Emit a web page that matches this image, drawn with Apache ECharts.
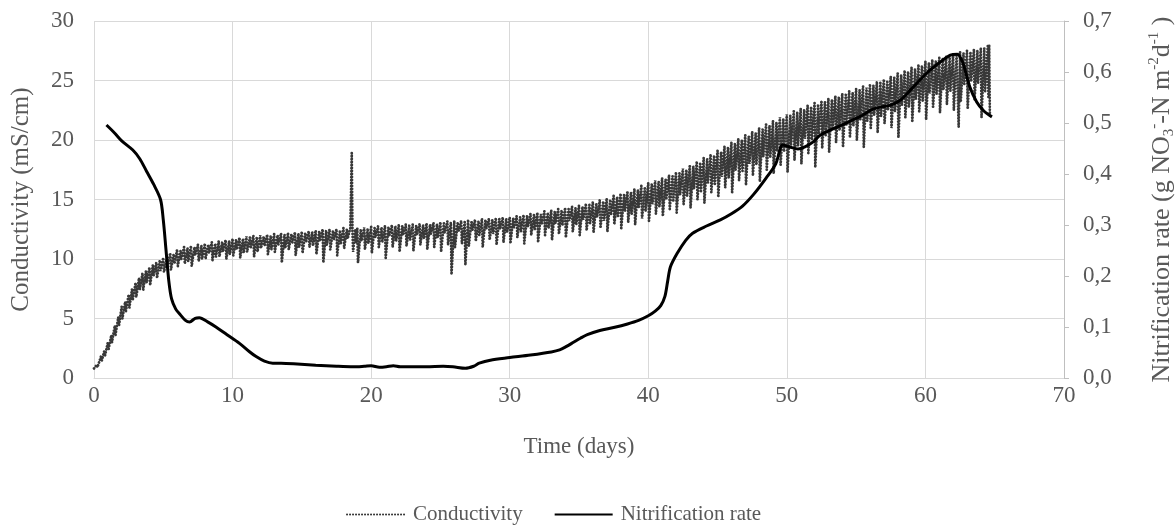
<!DOCTYPE html>
<html>
<head>
<meta charset="utf-8">
<script src="https://cdn.jsdelivr.net/npm/echarts@6/dist/echarts.min.js"></script>
<style>
  html, body { margin: 0; padding: 0; background: #fff; }
  #chart { width: 1176px; height: 526px; }
</style>
</head>
<body>
<div id="chart"></div>
<script>
// conductivity (mS/cm), [day, value]
var condEarly = [
  [0, 0.8], [0.2, 1.1], [0.25, 0.9], [0.5, 1.8], [0.55, 1.4], [0.75, 2.3], [0.8, 1.9],
  [1.0, 3.0], [1.05, 2.4], [1.25, 3.6], [1.3, 3.0], [1.5, 4.4], [1.55, 3.6], [1.75, 5.1], [1.8, 4.4],
  [2.0, 6.0], [2.05, 5.0], [2.25, 6.4], [2.3, 5.6], [2.5, 7.0], [2.55, 5.9], [2.75, 7.5], [2.8, 6.6],
  [3.0, 8.0], [3.05, 6.8], [3.25, 8.4], [3.3, 7.4], [3.5, 8.8], [3.55, 7.4], [3.75, 9.0], [3.8, 8.0],
  [4.0, 9.3], [4.05, 7.8], [4.25, 9.5], [4.3, 8.6], [4.5, 9.7], [4.55, 8.4], [4.75, 9.9], [4.8, 9.0],
  [5.0, 10.1], [5.05, 8.9], [5.25, 10.0], [5.3, 9.4],
  [5.5, 10.5], [5.55, 9.1], [5.75, 10.4], [5.8, 9.6],
  [6.0, 10.8], [6.05, 9.4], [6.25, 10.7], [6.3, 10.0],
  [6.5, 11.0], [6.55, 9.6], [6.75, 10.9], [6.8, 9.8],
  [7.0, 11.1], [7.05, 9.4], [7.25, 11.0], [7.3, 10.3],
  [7.5, 11.2], [7.55, 9.8], [7.75, 11.1], [7.8, 10.0],
  [8.0, 11.3], [8.05, 10.0], [8.25, 11.2], [8.3, 10.5],
  [8.5, 11.4], [8.55, 9.9], [8.75, 11.3], [8.8, 10.2],
  [9.0, 11.5], [9.05, 10.2], [9.25, 11.4], [9.3, 10.6],
  [9.5, 11.6], [9.55, 10.0], [9.75, 11.5], [9.8, 10.4]
];
var condMid = [
  [10.0, 11.7], [10.05, 10.3], [10.25, 11.6], [10.3, 10.8],
  [10.5, 11.8], [10.55, 10.1], [10.75, 11.7], [10.8, 10.5],
  [11.0, 11.9], [11.05, 10.6], [11.25, 11.8], [11.3, 10.9],
  [11.5, 11.95], [11.55, 10.2], [11.75, 11.85], [11.8, 10.6],
  [12.0, 12.0], [12.05, 10.9], [12.25, 11.9], [12.3, 11.1],
  [12.5, 12.05], [12.55, 10.4], [12.75, 11.95], [12.8, 10.8],
  [13.0, 12.1], [13.05, 10.6], [13.25, 12.0], [13.3, 11.2],
  [13.5, 12.15], [13.55, 9.7], [13.75, 12.05], [13.8, 10.9],
  [14.0, 12.2], [14.05, 10.8], [14.25, 12.1], [14.3, 11.3],
  [14.5, 12.25], [14.55, 10.3], [14.75, 12.15], [14.8, 11.0],
  [15.0, 12.3], [15.05, 10.5], [15.25, 12.2], [15.3, 11.4],
  [15.5, 12.35], [15.55, 11.0], [15.75, 12.25], [15.8, 11.1],
  [16.0, 12.4], [16.05, 10.4], [16.25, 12.3], [16.3, 11.5],
  [16.5, 12.5], [16.55, 9.7], [16.75, 12.4], [16.8, 11.2],
  [17.0, 12.5], [17.05, 10.8], [17.25, 12.4], [17.3, 11.6],
  [17.5, 12.5], [17.55, 10.3], [17.75, 12.4], [17.8, 11.3],
  [18.0, 12.6], [18.05, 10.9], [18.25, 12.5], [18.3, 11.7],
  [18.5, 12.6], [18.55, 12.5], [18.6, 18.9], [18.65, 12.4], [18.7, 10.6], [18.85, 12.5], [18.9, 11.4],
  [19.0, 12.6], [19.05, 9.7], [19.25, 12.5], [19.3, 11.5],
  [19.5, 12.65], [19.55, 10.8], [19.75, 12.55], [19.8, 11.3],
  [20.0, 12.7], [20.05, 10.5], [20.25, 12.6], [20.3, 11.8],
  [20.5, 12.75], [20.55, 11.0], [20.75, 12.65], [20.8, 11.4],
  [21.0, 12.8], [21.05, 10.1], [21.25, 12.7], [21.3, 11.9],
  [21.5, 12.85], [21.55, 11.0], [21.75, 12.75], [21.8, 11.5],
  [22.0, 12.9], [22.05, 10.6], [22.25, 12.8], [22.3, 12.0],
  [22.5, 12.9], [22.55, 11.1], [22.75, 12.8], [22.8, 11.6],
  [23.0, 12.9], [23.05, 10.7], [23.25, 12.8], [23.3, 12.0],
  [23.5, 12.95], [23.55, 11.2], [23.75, 12.85], [23.8, 11.7],
  [24.0, 13.0], [24.05, 10.8], [24.25, 12.9], [24.3, 12.1],
  [24.5, 13.05], [24.55, 11.0], [24.75, 12.95], [24.8, 11.8],
  [25.0, 13.1], [25.05, 10.6], [25.25, 13.0], [25.3, 12.2],
  [25.5, 13.15], [25.55, 11.2], [25.75, 13.05], [25.8, 8.7],
  [26.0, 13.2], [26.05, 11.0], [26.25, 13.1], [26.3, 12.3],
  [26.5, 13.2], [26.55, 11.3], [26.75, 13.1], [26.8, 9.5],
  [27.0, 13.3], [27.05, 11.1], [27.25, 13.2], [27.3, 12.4],
  [27.5, 13.3], [27.55, 11.5], [27.75, 13.2], [27.8, 12.0],
  [28.0, 13.4], [28.05, 11.0], [28.25, 13.3], [28.3, 12.5],
  [28.5, 13.4], [28.55, 11.6], [28.75, 13.3], [28.8, 12.1],
  [29.0, 13.45], [29.05, 11.2], [29.25, 13.35], [29.3, 12.5],
  [29.5, 13.5], [29.55, 11.4], [29.75, 13.4], [29.8, 12.2],
  [30.0, 13.5], [30.05, 11.3], [30.25, 13.4], [30.3, 12.6],
  [30.5, 13.6], [30.55, 11.8], [30.75, 13.5], [30.8, 12.3],
  [31.0, 13.7], [31.05, 11.3], [31.25, 13.6], [31.3, 12.7],
  [31.5, 13.8], [31.55, 12.0], [31.75, 13.7], [31.8, 12.5],
  [32.0, 13.9], [32.05, 11.4], [32.25, 13.8], [32.3, 12.9],
  [32.5, 14.0], [32.55, 12.0], [32.75, 13.9], [32.8, 12.6],
  [33.0, 14.1], [33.05, 11.6], [33.25, 14.0], [33.3, 13.0],
  [33.5, 14.2], [33.55, 12.1], [33.75, 14.1], [33.8, 12.8],
  [34.0, 14.3], [34.05, 11.8], [34.25, 14.2], [34.3, 13.2],
  [34.5, 14.4], [34.55, 12.3], [34.75, 14.3], [34.8, 12.9],
  [35.0, 14.5], [35.05, 12.0], [35.25, 14.4], [35.3, 13.3]
];
var condLate = [
  [35.5, 14.65], [35.55, 12.4], [35.75, 14.55], [35.8, 13.0],
  [36.0, 14.8], [36.05, 12.2], [36.25, 14.7], [36.3, 13.5],
  [36.5, 14.95], [36.55, 12.6], [36.75, 14.85], [36.8, 13.2],
  [37.0, 15.1], [37.05, 12.3], [37.25, 15.0], [37.3, 13.7],
  [37.5, 15.3], [37.55, 12.9], [37.75, 15.2], [37.8, 13.5],
  [38.0, 15.5], [38.05, 12.6], [38.25, 15.4], [38.3, 14.0],
  [38.5, 15.7], [38.55, 13.1], [38.75, 15.6], [38.8, 13.8],
  [39.0, 15.9], [39.05, 12.9], [39.25, 15.8], [39.3, 14.3],
  [39.5, 16.15], [39.55, 13.4], [39.75, 16.05], [39.8, 14.0],
  [40.0, 16.4], [40.05, 13.2], [40.25, 16.3], [40.3, 14.6],
  [40.5, 16.6], [40.55, 13.8], [40.75, 16.5], [40.8, 14.4],
  [41.0, 16.8], [41.05, 13.6], [41.25, 16.7], [41.3, 15.0],
  [41.5, 17.05], [41.55, 14.2], [41.75, 16.95], [41.8, 14.8],
  [42.0, 17.3], [42.05, 13.9], [42.25, 17.2], [42.3, 15.4],
  [42.5, 17.6], [42.55, 14.6], [42.75, 17.5], [42.8, 15.3],
  [43.0, 17.9], [43.05, 14.3], [43.25, 17.8], [43.3, 15.9],
  [43.5, 18.2], [43.55, 15.0], [43.75, 18.1], [43.8, 15.7],
  [44.0, 18.5], [44.05, 14.7], [44.25, 18.4], [44.3, 16.4],
  [44.5, 18.8], [44.55, 15.6], [44.75, 18.7], [44.8, 16.3],
  [45.0, 19.1], [45.05, 15.2], [45.25, 19.0], [45.3, 16.9],
  [45.5, 19.45], [45.55, 16.0], [45.75, 19.35], [45.8, 16.8],
  [46.0, 19.8], [46.05, 15.6], [46.25, 19.7], [46.3, 17.5],
  [46.5, 20.1], [46.55, 16.6], [46.75, 20.0], [46.8, 17.4],
  [47.0, 20.4], [47.05, 16.2], [47.25, 20.3], [47.3, 18.0],
  [47.5, 20.7], [47.55, 17.0], [47.75, 20.6], [47.8, 17.9],
  [48.0, 21.0], [48.05, 16.5], [48.25, 20.9], [48.3, 18.6],
  [48.5, 21.3], [48.55, 17.5], [48.75, 21.2], [48.8, 18.5],
  [49.0, 21.6], [49.05, 17.2], [49.25, 21.5], [49.3, 19.1],
  [49.5, 21.9], [49.55, 17.9], [49.75, 21.8], [49.8, 19.0],
  [50.0, 22.15], [50.05, 17.3], [50.25, 22.05], [50.3, 19.6],
  [50.5, 22.4], [50.55, 18.3], [50.75, 22.3], [50.8, 19.5],
  [51.0, 22.65], [51.05, 18.0], [51.25, 22.55], [51.3, 20.1],
  [51.5, 22.9], [51.55, 18.9], [51.75, 22.8], [51.8, 20.0],
  [52.0, 23.1], [52.05, 17.7], [52.25, 23.0], [52.3, 20.5],
  [52.5, 23.3], [52.55, 19.3], [52.75, 23.2], [52.8, 20.4],
  [53.0, 23.5], [53.05, 19.0], [53.25, 23.4], [53.3, 20.9],
  [53.5, 23.7], [53.55, 19.8], [53.75, 23.6], [53.8, 20.8],
  [54.0, 23.9], [54.05, 19.4], [54.25, 23.8], [54.3, 21.3],
  [54.5, 24.1], [54.55, 20.2], [54.75, 24.0], [54.8, 21.2],
  [55.0, 24.3], [55.05, 20.0], [55.25, 24.2], [55.3, 21.7],
  [55.5, 24.5], [55.55, 19.4], [55.75, 24.4], [55.8, 21.6],
  [56.0, 24.7], [56.05, 20.9], [56.25, 24.6], [56.3, 22.1],
  [56.5, 24.9], [56.55, 20.6], [56.75, 24.8], [56.8, 22.0],
  [57.0, 25.1], [57.05, 21.4], [57.25, 25.0], [57.3, 22.5],
  [57.5, 25.35], [57.55, 21.0], [57.75, 25.25], [57.8, 22.4],
  [58.0, 25.6], [58.05, 20.2], [58.25, 25.5], [58.3, 22.9],
  [58.5, 25.85], [58.55, 21.9], [58.75, 25.75], [58.8, 22.8],
  [59.0, 26.1], [59.05, 21.5], [59.25, 26.0], [59.3, 23.4],
  [59.5, 26.35], [59.55, 22.4], [59.75, 26.25], [59.8, 23.3],
  [60.0, 26.6], [60.05, 21.7], [60.25, 26.5], [60.3, 23.9],
  [60.5, 26.75], [60.55, 22.8], [60.75, 26.65], [60.8, 23.8],
  [61.0, 26.9], [61.05, 22.3], [61.25, 26.8], [61.3, 24.2],
  [61.5, 27.05], [61.55, 23.0], [61.75, 26.95], [61.8, 24.1],
  [62.0, 27.2], [62.05, 22.5], [62.25, 27.1], [62.4, 21.1],
  [62.5, 27.4], [62.55, 23.2], [62.75, 27.3], [62.8, 24.6],
  [63.0, 27.5], [63.05, 22.6], [63.25, 27.4], [63.3, 24.9],
  [63.5, 27.6], [63.55, 23.4], [63.75, 27.5], [63.8, 24.8],
  [64.0, 27.75], [64.05, 21.9], [64.25, 27.7], [64.3, 24.0],
  [64.5, 27.9], [64.55, 23.5], [64.6, 28.0], [64.65, 22.1]
];

// nitrification rate (g NO3-N m-2 d-1), [day, value]
var nitrRate = [
  [0.9, 0.496], [1.5, 0.48], [2.0, 0.465], [2.8, 0.447], [3.3, 0.43], [3.8, 0.405], [4.3, 0.38], [4.8, 0.35],
  [5.0, 0.31], [5.2, 0.25], [5.4, 0.19], [5.6, 0.155], [5.9, 0.135], [6.2, 0.125], [6.6, 0.113], [6.9, 0.110],
  [7.3, 0.117], [7.6, 0.118], [8.2, 0.11], [8.8, 0.10], [9.6, 0.085], [10.5, 0.068], [11.2, 0.052], [11.7, 0.042],
  [12.3, 0.033], [12.9, 0.029], [13.5, 0.029], [14.4, 0.028], [16.0, 0.025], [17.5, 0.023], [18.7, 0.022], [19.5, 0.023],
  [20.0, 0.024], [20.6, 0.021], [21.1, 0.022], [21.6, 0.024], [22.1, 0.022], [22.6, 0.022], [24.0, 0.022], [25.2, 0.023],
  [25.9, 0.022], [26.8, 0.019], [27.4, 0.023], [27.8, 0.029], [28.6, 0.035], [30.0, 0.040], [31.5, 0.045], [33.0, 0.051],
  [33.6, 0.055], [34.1, 0.062], [34.6, 0.070], [35.1, 0.078], [35.6, 0.085], [36.5, 0.093], [37.5, 0.099], [38.5, 0.106],
  [39.3, 0.113], [40.0, 0.122], [40.5, 0.131], [40.9, 0.142], [41.2, 0.16], [41.4, 0.19], [41.6, 0.218], [42.1, 0.245],
  [42.7, 0.27], [43.2, 0.284], [44.2, 0.298], [45.2, 0.31], [46.0, 0.322], [46.8, 0.337], [47.6, 0.36], [48.5, 0.392],
  [49.2, 0.42], [49.7, 0.457], [50.2, 0.453], [50.8, 0.449], [51.3, 0.453], [51.9, 0.463], [52.4, 0.476], [53.8, 0.494],
  [55.3, 0.513], [56.2, 0.527], [56.9, 0.532], [57.5, 0.535], [58.2, 0.545], [59.0, 0.567], [60.1, 0.598], [61.0, 0.618],
  [61.8, 0.633], [62.3, 0.635], [62.7, 0.618], [63.2, 0.571], [63.7, 0.541], [64.2, 0.524], [64.8, 0.512]
];

var leftTicks = [0, 30, 5];
var rightTicks = [0, 0.7, 0.1];
var xTicks = [0, 70, 10];

var FONT = "'Liberation Serif', 'Times New Roman', serif";
var TXT = '#595959';
var GRID = '#d9d9d9';

var myChart = echarts.init(document.getElementById('chart'), null, { renderer: 'canvas' });

var option = {
  animation: false,
  backgroundColor: '#fff',
  textStyle: { fontFamily: FONT, color: TXT },
  grid: { left: 94, right: 112, top: 21, bottom: 148, containLabel: false, outerBoundsMode: 'none' },
  legend: {
    left: 341,
    top: 499,
    itemWidth: 58,
    itemHeight: 12,
    itemGap: 31,
    itemStyle: { opacity: 0 },
    textStyle: { fontFamily: FONT, fontSize: 21, color: TXT, padding: [0, 0, 0, 3] },
    data: ['Conductivity', 'Nitrification rate']
  },
  xAxis: {
    type: 'value',
    min: xTicks[0], max: xTicks[1], interval: xTicks[2],
    name: 'Time (days)',
    nameLocation: 'middle',
    nameGap: 57,
    nameTextStyle: { fontFamily: FONT, fontSize: 23, color: TXT },
    axisLine: { show: true, lineStyle: { color: GRID, width: 1 } },
    axisTick: { show: false },
    axisLabel: { margin: 6, fontFamily: FONT, fontSize: 23, color: TXT },
    splitLine: { show: true, lineStyle: { color: GRID, width: 1 } }
  },
  yAxis: [
    {
      type: 'value',
      position: 'left',
      min: leftTicks[0], max: leftTicks[1], interval: leftTicks[2],
      name: 'Conductivity (mS/cm)',
      nameLocation: 'middle',
      nameRotate: 90,
      nameGap: 60,
      nameTextStyle: { fontFamily: FONT, fontSize: 25, color: TXT },
      axisLine: { show: false },
      axisTick: { show: false },
      axisLabel: { margin: 20, fontFamily: FONT, fontSize: 23, color: TXT },
      splitLine: { show: true, lineStyle: { color: GRID, width: 1 } }
    },
    {
      type: 'value',
      position: 'right',
      min: rightTicks[0], max: rightTicks[1], interval: rightTicks[2],
      name: 'Nitrification rate (g NO{sub|3}{sup|-}-N m{sup|-2}d{sup|-1} )',
      nameLocation: 'middle',
      nameRotate: 90,
      nameGap: 83,
      nameTextStyle: {
        fontFamily: FONT, fontSize: 26, color: TXT, lineHeight: 30,
        rich: {
          sub: { fontFamily: FONT, fontSize: 15, color: TXT, verticalAlign: 'bottom', lineHeight: 30 },
          sup: { fontFamily: FONT, fontSize: 15, color: TXT, verticalAlign: 'top', lineHeight: 30 }
        }
      },
      axisLine: { show: true, lineStyle: { color: '#bfbfbf', width: 1 } },
      axisTick: { show: true, length: 5, lineStyle: { color: '#bfbfbf' } },
      axisLabel: {
        margin: 19, fontFamily: FONT, fontSize: 23, color: TXT,
        formatter: function (v) { return v.toFixed(1).replace('.', ','); }
      },
      splitLine: { show: false }
    }
  ],
  series: [
    {
      name: 'Conductivity',
      type: 'line',
      yAxisIndex: 0,
      symbol: 'none',
      data: condEarly.concat(condMid, condLate),
      lineStyle: { color: '#383838', width: 2.8, type: [0.1, 2.9], cap: 'round' },
      itemStyle: { color: '#383838' },
      z: 2
    },
    {
      name: 'Nitrification rate',
      type: 'line',
      yAxisIndex: 1,
      symbol: 'none',
      smooth: 0.3,
      data: nitrRate,
      lineStyle: { color: '#000', width: 3 },
      itemStyle: { color: '#000' },
      z: 3
    }
  ]
};

myChart.setOption(option);
</script>
</body>
</html>
